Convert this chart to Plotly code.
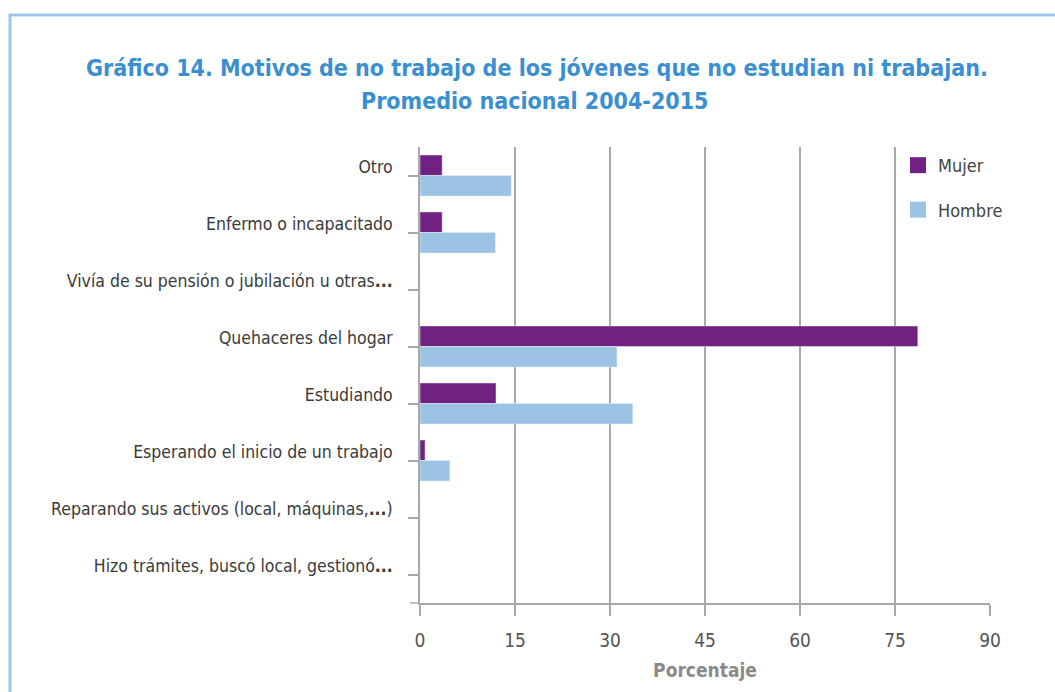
import plotly.graph_objects as go

categories = [
    "Otro",
    "Enfermo o incapacitado",
    "Vivía de su pensión o jubilación u otras<b>...</b>",
    "Quehaceres del hogar",
    "Estudiando",
    "Esperando el inicio de un trabajo",
    "Reparando sus activos (local, máquinas,<b>...</b>)",
    "Hizo trámites, buscó local, gestionó<b>...</b>",
]
mujer = [3.5, 3.5, 0, 78.6, 12.0, 0.8, 0, 0]
hombre = [14.4, 11.9, 0, 31.1, 33.6, 4.7, 0, 0]
x_ticks = [0, 15, 30, 45, 60, 75, 90]

title_line1 = "<b>Gráfico 14. Motivos de no trabajo de los jóvenes que no estudian ni trabajan.</b>"
title_line2 = "<b>Promedio nacional 2004-2015</b>"

FONT = "DejaVu Sans Condensed, Liberation Sans Narrow, sans-serif"
C_MUJER = "#6f2282"
C_HOMBRE = "#9dc3e4"
C_TITLE = "#3b8fd0"
GRID = "#a9a9a9"

W, H = 1055, 692
L, R, T, B = 420, 990, 147, 603

fig = go.Figure()
fig.add_trace(go.Bar(y=categories, x=mujer, orientation="h", name="Mujer",
                     marker_color=C_MUJER, showlegend=False))
fig.add_trace(go.Bar(y=categories, x=hombre, orientation="h", name="Hombre",
                     marker_color=C_HOMBRE, showlegend=False))
# legend entries
fig.add_trace(go.Scatter(x=[None], y=[None], mode="markers", name="Mujer",
                         marker=dict(symbol="square", size=17, color=C_MUJER),
                         legendgroup="m"))
fig.add_trace(go.Scatter(x=[None], y=[None], mode="markers", name="Hombre",
                         marker=dict(symbol="square", size=17, color=C_HOMBRE),
                         legendgroup="h"))


def px_x(p):
    return (p - L) / (R - L)


def px_y(p):
    return (B - p) / (B - T)


fig.update_layout(
    width=W, height=H,
    margin=dict(l=L, r=W - R, t=T, b=H - B),
    paper_bgcolor="white", plot_bgcolor="white",
    barmode="group", bargap=0.28, bargroupgap=0,
    font=dict(family=FONT, color="#404040"),
    annotations=[
        dict(text=title_line1, xref="paper", yref="paper", x=px_x(537), y=px_y(68),
             xanchor="center", yanchor="middle", showarrow=False,
             font=dict(family=FONT, size=23, color=C_TITLE)),
        dict(text=title_line2, xref="paper", yref="paper", x=px_x(535), y=px_y(101),
             xanchor="center", yanchor="middle", showarrow=False,
             font=dict(family=FONT, size=23, color=C_TITLE)),
    ],
    legend=dict(x=px_x(898), xanchor="left", y=px_y(147), yanchor="top",
                bgcolor="rgba(0,0,0,0)", font=dict(size=18, color="#444444", family=FONT),
                tracegroupgap=18, traceorder="grouped", itemclick=False),
    shapes=[
        dict(type="rect", xref="paper", yref="paper",
             x0=px_x(10), x1=px_x(1100), y0=px_y(740), y1=px_y(15),
             line=dict(color="#9dc7ea", width=3), fillcolor="rgba(0,0,0,0)", layer="below"),
        dict(type="rect", xref="paper", yref="paper",
             x0=px_x(980), x1=px_x(1003), y0=px_y(272), y1=px_y(174),
             line=dict(width=0), fillcolor="white", layer="above"),
        dict(type="line", xref="paper", yref="paper",
             x0=px_x(410), x1=0, y0=0, y1=0,
             line=dict(color=GRID, width=1.5), layer="above"),
    ],
)

fig.update_xaxes(
    range=[0, 90], tickvals=x_ticks, ticktext=[str(v) for v in x_ticks],
    showgrid=True, gridcolor=GRID, gridwidth=1.5,
    zeroline=False, showline=True, linecolor=GRID, linewidth=1.5,
    ticks="outside", ticklen=11, tickcolor=GRID, tickwidth=1.5,
    tickfont=dict(size=19, color="#555555", family=FONT),
    ticklabelstandoff=8,
    title=dict(text="<b>Porcentaje</b>", standoff=14,
               font=dict(size=19, color="#8a8a8a", family=FONT)),
    fixedrange=True,
)
fig.update_yaxes(
    type="category", categoryorder="array", categoryarray=categories,
    autorange="reversed",
    showgrid=False, zeroline=False, showline=True, linecolor=GRID, linewidth=1.5,
    ticks="outside", ticklen=10, tickcolor=GRID, tickwidth=1.5,
    tickfont=dict(size=17.5, color="#3a3a3a", family=FONT),
    ticklabelstandoff=12, ticklabelshift=9,
    fixedrange=True,
)

fig.write_html("out.html", config={"displayModeBar": False},
               post_script="document.body.style.margin='0';")
